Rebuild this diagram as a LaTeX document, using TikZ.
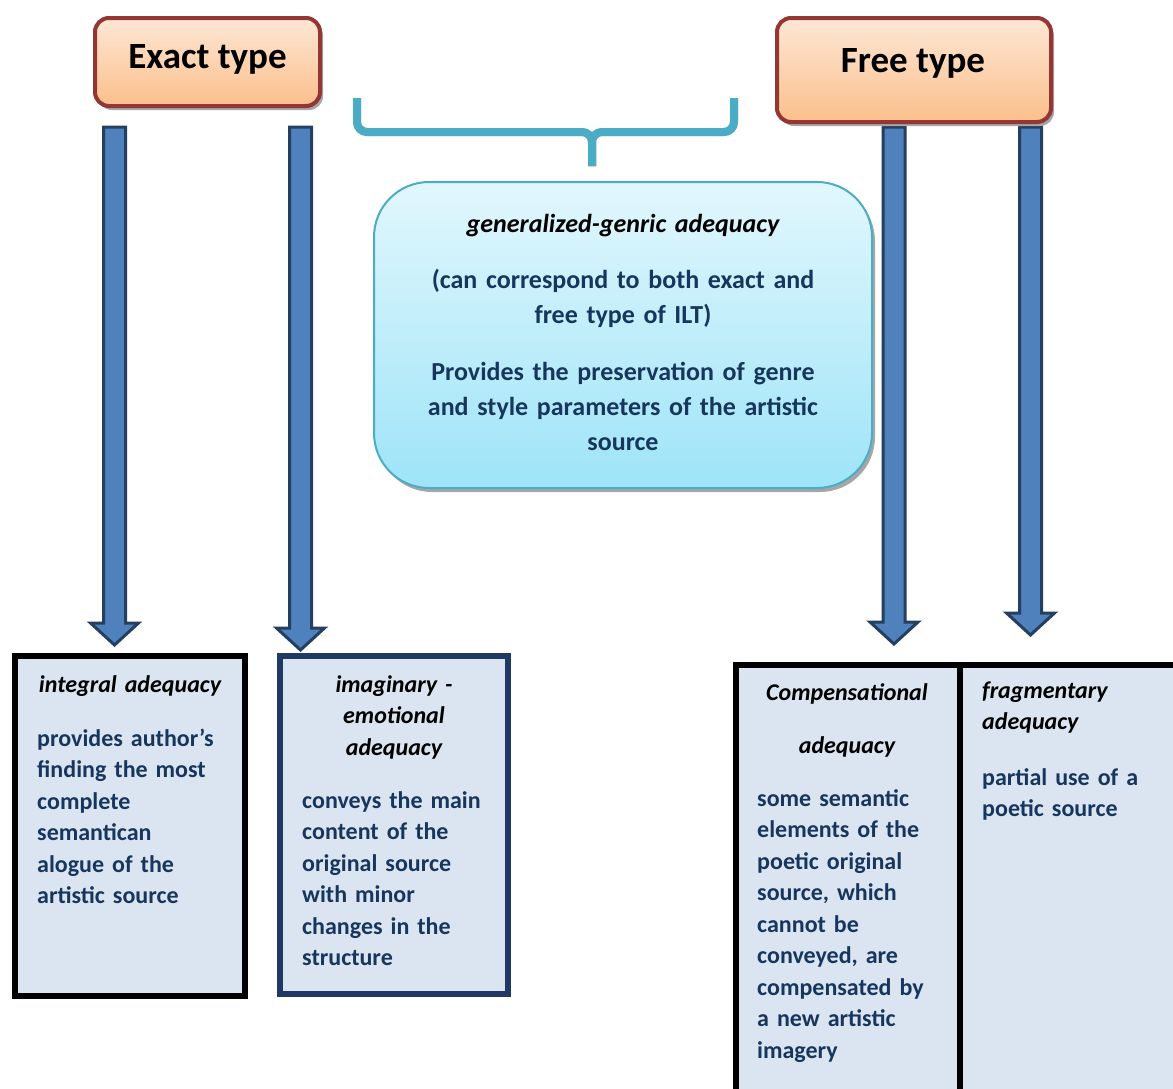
\documentclass[tikz,border=0pt]{standalone}
\usepackage{fontspec}
\setmainfont{Carlito}
\usetikzlibrary{positioning,calc,shadows}
\definecolor{typeBorder}{HTML}{943634}
\definecolor{typeTop}{HTML}{FDE7D5}
\definecolor{typeBottom}{HTML}{FBBF8C}
\definecolor{genericBorder}{HTML}{4BACC6}
\definecolor{genericTop}{HTML}{E2F7FD}
\definecolor{genericBottom}{HTML}{9EE4F8}
\definecolor{arrowFill}{HTML}{4F81BD}
\definecolor{arrowBorder}{HTML}{243F60}
\definecolor{cellFill}{HTML}{DBE5F1}
\definecolor{cellBlue}{HTML}{1F3864}
\definecolor{textBlue}{HTML}{17365D}
\definecolor{shadowGray}{HTML}{A6A6A6}
\tikzstyle{sheet} = [x=1pt, y=-1pt]
\tikzstyle{typeBox} = [draw=typeBorder, line width=4pt, rounded corners=14pt, top color=typeTop, bottom color=typeBottom, drop shadow={shadow xshift=3pt, shadow yshift=-4pt, fill=shadowGray, opacity=1}]
\tikzstyle{typeText} = [anchor=base, inner sep=0pt, font=\bfseries\fontsize{37}{44}\selectfont]
\tikzstyle{genericBox} = [draw=genericBorder, line width=2pt, rounded corners=55pt, top color=genericTop, bottom color=genericBottom, drop shadow={shadow xshift=3pt, shadow yshift=-4pt, fill=shadowGray, opacity=1}]
\tikzstyle{genericText} = [anchor=base, inner sep=0pt, text width=470pt, align=center, font=\bfseries\fontsize{26}{35}\selectfont, text=textBlue]
\tikzstyle{cellBox} = [draw=black, line width=6pt, fill=cellFill]
\tikzstyle{cellTitle} = [inner sep=0pt, text width=215pt, font=\bfseries\itshape\fontsize{24}{31.5}\selectfont]
\tikzstyle{cellText} = [anchor=base west, inner sep=0pt, text width=205pt, align=left, font=\bfseries\fontsize{24}{31.5}\selectfont, text=textBlue]
\tikzstyle{arrowStyle} = [fill=arrowFill, draw=arrowBorder, line width=3pt, line join=miter]
\tikzstyle{braceStyle} = [line width=8pt, rounded corners=10pt]
\newcommand{\blockArrow}[2]{\filldraw [arrowStyle] ($(#1)+(-11,0)$) -- ($(#2)+(-11,-22)$) -- ($(#2)+(-24,-22)$) -- (#2) -- ($(#2)+(24,-22)$) -- ($(#2)+(11,-22)$) -- ($(#1)+(11,0)$) -- cycle;}
\newcommand{\braceHalf}[2]{\draw [braceStyle, #2] (#1) |- (braceMid) -- (braceTip);}

\begin{document}
\begin{tikzpicture}[sheet]
\useasboundingbox (0,0) rectangle (1173,1088);
% arrows down to the adequacy cells
\coordinate (arrowOneTop) at (114.5,127);  \coordinate (arrowOneTip) at (114.5,645);
\coordinate (arrowTwoTop) at (300.5,127);  \coordinate (arrowTwoTip) at (300.5,650);
\coordinate (arrowThreeTop) at (894,127);  \coordinate (arrowThreeTip) at (894,644);
\coordinate (arrowFourTop) at (1030.5,127); \coordinate (arrowFourTip) at (1030.5,635);
\blockArrow{arrowOneTop}{arrowOneTip}
\blockArrow{arrowTwoTop}{arrowTwoTip}
\blockArrow{arrowThreeTop}{arrowThreeTip}
\blockArrow{arrowFourTop}{arrowFourTip}
% the two types
\node [typeBox, minimum width=225pt, minimum height=88pt] (exact) at (207.5,62) {};
\node [typeText] (exactText) at (207.5,68) {Exact type};
\node [typeBox, minimum width=274pt, minimum height=104pt] (free) at (914,70) {};
\node [typeText] (freeText) at (913,72) {Free type};
% brace over the generic box
\coordinate (braceLeft) at (357,98); \coordinate (braceRight) at (734,98);
\coordinate (braceMid) at (592,132); \coordinate (braceTip) at (592,166);
\begin{scope}[shift={(2,4)}]
  \braceHalf{braceLeft}{shadowGray}
  \braceHalf{braceRight}{shadowGray}
\end{scope}
\braceHalf{braceLeft}{genericBorder}
\braceHalf{braceRight}{genericBorder}
\node [genericBox, minimum width=498pt, minimum height=306pt] (generic) at (623,335) {};
\node [genericText, text=black, font=\bfseries\itshape\fontsize{26}{35}\selectfont] (genericTitle) at (623,232) {generalized-genric adequacy};
\node [genericText] (genericBoth) at (623,288) {(can correspond to both exact and\\free type of ILT)};
\node [genericText] (genericKeeps) at (623,380) {Provides the preservation of genre\\and style parameters of the artistic\\source};
% adequacy cells
\node [cellBox, minimum width=230pt, minimum height=340pt] (integral) at (130,826) {};
\node [cellBox, draw=cellBlue, minimum width=228pt, minimum height=338pt] (imaginary) at (394,825) {};
\node [cellBox, minimum width=224pt, minimum height=445pt] (compensational) at (848,887.5) {};
\node [cellBox, minimum width=225pt, minimum height=445pt] (fragmentary) at (1072.5,887.5) {};
\node [cellTitle, anchor=base, align=center] (integralTitle) at (130,692) {integral adequacy};
\node [cellText] (integralText) at (37,746) {provides author’s\\finding the most\\complete\\semantican\\alogue of the\\artistic source};
\node [cellTitle, anchor=base, align=center] (imaginaryTitle) at (394,692) {imaginary -\\emotional\\adequacy};
\node [cellText] (imaginaryText) at (302,808) {conveys the main\\content of the\\original source\\with minor\\changes in the\\structure};
\node [cellTitle, anchor=base, align=center] (compensationalTitle) at (847,700) {Compensational\\[22pt]adequacy};
\node [cellText] (compensationalText) at (757,806) {some semantic\\elements of the\\poetic original\\source, which\\cannot be\\conveyed, are\\compensated by\\a new artistic\\imagery};
\node [cellTitle, anchor=base west, align=left] (fragmentaryTitle) at (982,698) {fragmentary\\adequacy};
\node [cellText] (fragmentaryText) at (982,785) {partial use of a\\poetic source};
\end{tikzpicture}
\end{document}
